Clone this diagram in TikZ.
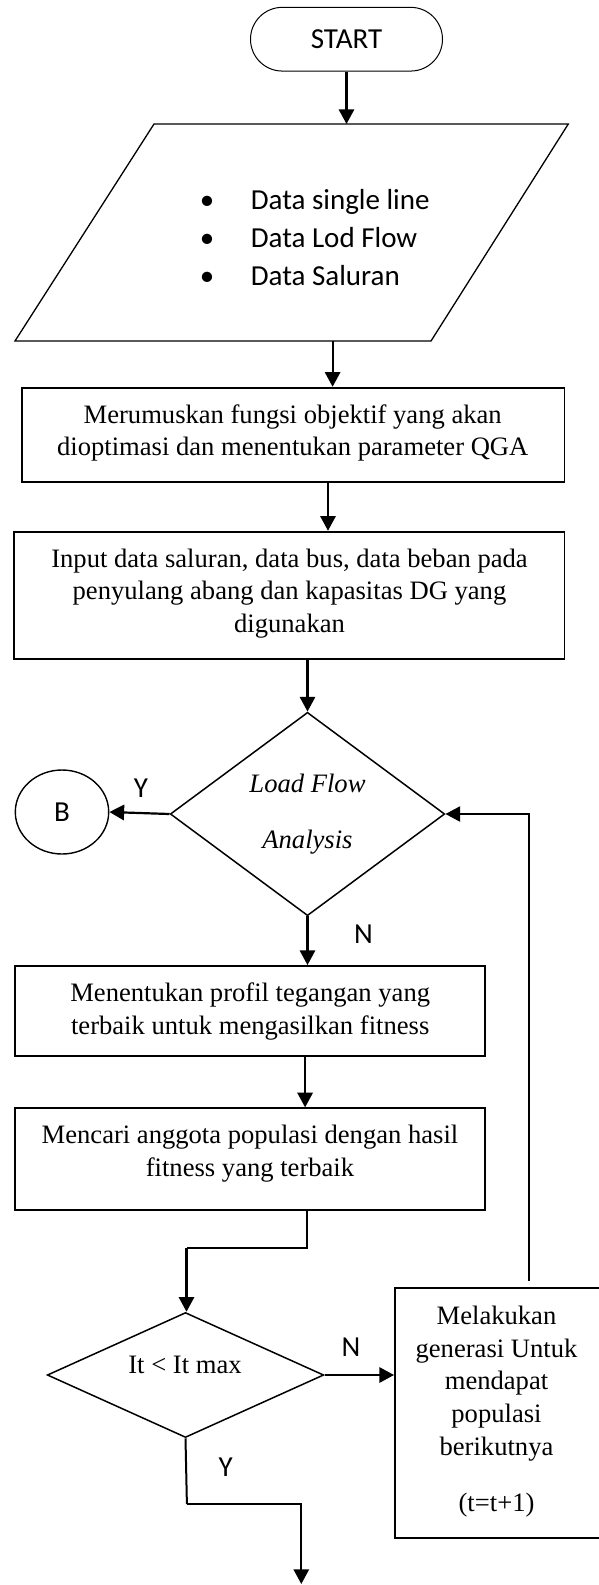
\documentclass[tikz,border=0pt]{standalone}
\usepackage{fontspec}
\setmainfont{Liberation Serif}
\newfontfamily\calfont{Carlito}
\usetikzlibrary{arrows.meta,shapes.geometric}
\tikzset{
  arr/.style={line width=2.2pt,-{Triangle[length=14.7pt,width=15.3pt]}},
  thinarr/.style={line width=1.6pt,-{Triangle[length=14.7pt,width=15.3pt]}},
  procbox/.style={draw,line width=1.9pt,inner sep=0pt,rectangle},
  tms/.style={font=\fontsize{26.6}{32.7}\selectfont,align=center,inner sep=0pt},
  lbl/.style={font=\calfont\fontsize{29}{34}\selectfont,inner sep=0pt},
}
\begin{document}
\begin{tikzpicture}[x=1pt,y=-1pt]
\useasboundingbox (0,0) rectangle (598,1585);

% START
\node[draw,line width=1pt,rounded corners=31.8pt,minimum width=192pt,minimum height=63.7pt,inner sep=0pt,font=\calfont\fontsize{29}{34}\selectfont] (start) at (346.5,39.2) {START};

% data parallelogram
\coordinate (pbl) at (15,341);
\coordinate (pbr) at (431,341);
\coordinate (ptr) at (568.3,124);
\coordinate (ptl) at (154,124);
\draw[line width=1.3pt] (pbl) -- (pbr) -- (ptr) -- (ptl) -- cycle;
\coordinate (ptop) at (346.5,124);
\coordinate (pbot) at (332.6,341);
\node[anchor=west,align=left,inner sep=0pt,font=\calfont\fontsize{29}{38}\selectfont] (data) at (250.6,238)
  {\llap{\makebox[87.2pt][c]{\textbullet}}Data single line\\
   \llap{\makebox[87.2pt][c]{\textbullet}}Data Lod Flow\\
   \llap{\makebox[87.2pt][c]{\textbullet}}Data Saluran};

% boxes
\node[procbox,minimum width=542.8pt,minimum height=94pt] (b1) at (293.1,434.7) {};
\node[tms] (b1t) at (292.7,433) {Merumuskan fungsi objektif yang akan\\dioptimasi dan menentukan parameter QGA};

\node[procbox,minimum width=550.4pt,minimum height=127.6pt] (b2) at (289.3,595.5) {};
\node[tms] (b2t) at (289.5,593.4) {Input data saluran, data bus, data beban pada\\penyulang abang dan kapasitas DG yang\\digunakan};

% decision 1
\node[draw,diamond,line width=1.5pt,aspect=1.35,minimum width=274.5pt,minimum height=203.4pt,inner sep=0pt,
      font=\itshape\fontsize{26.6}{56}\selectfont,align=center] (d1) at (307.5,814) {Load Flow\\Analysis};

\node[draw,ellipse,line width=1.4pt,minimum width=93.4pt,minimum height=84pt,inner sep=0pt,
      font=\calfont\fontsize{29}{34}\selectfont] (B) at (62,812) {B};

\node[procbox,minimum width=469.8pt,minimum height=89.7pt] (b3) at (250.2,1010.85) {};
\node[tms] (b3t) at (250.2,1011.5) {Menentukan profil tegangan yang\\terbaik untuk mengasilkan fitness};

\node[procbox,minimum width=469.8pt,minimum height=101.7pt] (b4) at (250.2,1159.15) {};
\node[tms] (b4t) at (250,1153.5) {Mencari anggota populasi dengan hasil\\fitness yang terbaik};

% decision 2
\node[draw,diamond,line width=1.5pt,aspect=2.2,minimum width=276.5pt,minimum height=125pt,inner sep=0pt] (d2) at (185.5,1375) {};
\node[tms] (d2t) at (185,1365) {It < It max};

\node[procbox,minimum width=208pt,minimum height=249.4pt] (b5) at (499,1413) {};
\node[tms] (b5t) at (496.5,1411.8) {Melakukan\\generasi Untuk\\mendapat\\populasi\\berikutnya\\[23.9pt](t=t+1)};

% labels
\node[lbl] (lY1) at (141,788.3) {Y};
\node[lbl] (lN1) at (363.5,934) {N};
\node[lbl] (lN2) at (351,1346.7) {N};
\node[lbl] (lY2) at (225.8,1466.7) {Y};

% connectors
\draw[arr] (start.south) -- (ptop);
\draw[arr] (pbot) -- (pbot |- b1.north);
\draw[arr] ([xshift=34.9pt]b1.south) -- ([xshift=34.9pt]b1.south |- b2.north);
\draw[arr] (d1.north |- b2.south) -- (d1.north);
\draw[arr] (d1.west) -- (B.east);
\draw[arr] (d1.south) -- (d1.south |- b3.north);
\draw[arr] ([xshift=54.9pt]b3.south) -- ([xshift=54.9pt]b3.south |- b4.north);
\coordinate (j1) at (186.5,1248.3);
\draw[line width=2pt] ([xshift=57.2pt]b4.south) |- (j1);
\draw[arr] (j1) -- (j1 |- d2.north);
\draw[arr] (d2.east) -- (d2.east -| b5.west);
\draw[thinarr,shorten <=6.5pt] ([xshift=135pt]b5.north west) |- (d1.east);
\coordinate (j2) at (186.9,1504);
\coordinate (endpt) at (301.3,1584);
\draw[line width=2pt] (d2.south) -- (j2);
\draw[arr] (j2) -| (endpt);
\end{tikzpicture}
\end{document}
